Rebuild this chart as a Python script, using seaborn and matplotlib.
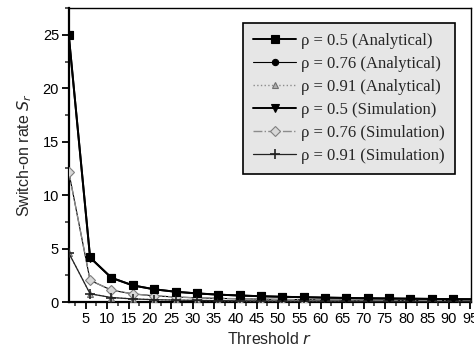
import matplotlib
matplotlib.use("Agg")
import matplotlib.pyplot as plt
import seaborn as sns
import pandas as pd
from matplotlib.ticker import MultipleLocator

sns.set_theme(style="ticks")
plt.rcParams['font.family'] = ['Liberation Sans', 'DejaVu Sans']

r = [1, 6, 11, 16, 21, 26, 31, 36, 41, 46, 51, 56, 61, 66, 71, 76, 81, 86, 91, 96]
s_05_ana = [25.0, 4.17, 2.27, 1.56, 1.19, 0.96, 0.81, 0.69, 0.61, 0.54, 0.49, 0.45, 0.41, 0.38, 0.35, 0.33, 0.31, 0.29, 0.27, 0.26]
s_076_ana = [12.2, 2.03, 1.11, 0.76, 0.58, 0.47, 0.39, 0.34, 0.30, 0.27, 0.24, 0.22, 0.20, 0.18, 0.17, 0.16, 0.15, 0.14, 0.13, 0.13]
s_091_ana = [4.6, 0.77, 0.42, 0.29, 0.22, 0.18, 0.15, 0.13, 0.11, 0.10, 0.09, 0.08, 0.08, 0.07, 0.06, 0.06, 0.06, 0.05, 0.05, 0.05]
s_05_sim = [25.0, 4.15, 2.26, 1.55, 1.19, 0.96, 0.80, 0.69, 0.61, 0.54, 0.49, 0.45, 0.41, 0.38, 0.35, 0.33, 0.31, 0.29, 0.27, 0.26]
s_076_sim = [12.2, 2.03, 1.11, 0.76, 0.58, 0.47, 0.39, 0.34, 0.30, 0.27, 0.24, 0.22, 0.20, 0.18, 0.17, 0.16, 0.15, 0.14, 0.13, 0.13]
s_091_sim = [4.6, 0.77, 0.42, 0.29, 0.22, 0.18, 0.15, 0.13, 0.11, 0.10, 0.09, 0.08, 0.08, 0.07, 0.06, 0.06, 0.06, 0.05, 0.05, 0.05]

labels = [
    "ρ = 0.5 (Analytical)",
    "ρ = 0.76 (Analytical)",
    "ρ = 0.91 (Analytical)",
    "ρ = 0.5 (Simulation)",
    "ρ = 0.76 (Simulation)",
    "ρ = 0.91 (Simulation)",
]
series = [s_05_ana, s_076_ana, s_091_ana, s_05_sim, s_076_sim, s_091_sim]

styles = [
    dict(color="black", ls="-", lw=1.4, marker="s", ms=5.5, mfc="black", mec="black", zorder=4),
    dict(color="black", ls="-", lw=0.8, marker="o", ms=4.5, mfc="black", mec="black", zorder=2),
    dict(color="#8c8c8c", ls=":", lw=1.0, marker="^", ms=4.5, mfc="#b0b0b0", mec="#707070", zorder=3),
    dict(color="black", ls="-", lw=1.4, marker="v", ms=5.5, mfc="black", mec="black", zorder=5),
    dict(color="#8c8c8c", ls="-.", lw=1.0, marker="D", ms=5, mfc="#d8d8d8", mec="#808080", zorder=3),
    dict(color="#222222", ls="-", lw=0.9, marker="+", ms=6.5, mfc="black", mec="#222222", mew=1.2, zorder=4),
]

fig = plt.figure(figsize=(4.74, 3.52), dpi=100)
ax = fig.add_axes([0.145, 0.142, 0.849, 0.835])

for lab, ys, st in zip(labels, series, styles):
    df = pd.DataFrame({"r": r, "S": ys})
    sns.lineplot(data=df, x="r", y="S", ax=ax, label=lab,
                 color=st["color"], linestyle=st["ls"], linewidth=st["lw"],
                 marker=st["marker"], markersize=st["ms"],
                 markerfacecolor=st["mfc"], markeredgecolor=st["mec"],
                 markeredgewidth=st.get("mew", 0.8), zorder=st["zorder"])

ax.set_xlim(1, 95.2)
ax.set_ylim(0, 27.5)
ax.xaxis.set_major_locator(MultipleLocator(5))
ax.xaxis.set_minor_locator(MultipleLocator(2.5))
ax.yaxis.set_major_locator(MultipleLocator(5))
ax.yaxis.set_minor_locator(MultipleLocator(2.5))
ax.set_xticks([5, 10, 15, 20, 25, 30, 35, 40, 45, 50, 55, 60, 65, 70, 75, 80, 85, 90, 95])
ax.set_xticklabels(["5", "10", "15", "20", "25", "30", "35", "40", "45", "50",
                    "55", "60", "65", "70", "75", "80", "85", "90", "95"])
ax.tick_params(axis="both", which="major", direction="out", length=5, width=1.3,
               labelsize=10.5, pad=2, colors="black")
ax.tick_params(axis="both", which="minor", direction="out", length=3, width=1.1)
ax.tick_params(top=False, right=False)

for side in ["top", "right", "left", "bottom"]:
    ax.spines[side].set_visible(True)
    ax.spines[side].set_color("black")
ax.spines["left"].set_linewidth(1.6)
ax.spines["bottom"].set_linewidth(1.6)
ax.spines["top"].set_linewidth(1.0)
ax.spines["right"].set_linewidth(1.0)

ax.set_xlabel("Threshold $r$", fontsize=11.5, labelpad=4)
ax.set_ylabel("Switch-on rate $S_r$", fontsize=11.5, labelpad=6)

leg = ax.legend(loc="upper left", bbox_to_anchor=(0.433, 0.95), frameon=True,
                fancybox=False, prop={"family": "Liberation Serif", "size": 12},
                handlelength=2.6, handletextpad=0.3, labelspacing=0.42,
                borderpad=0.6, borderaxespad=0)
frame = leg.get_frame()
frame.set_facecolor("#e6e6e6")
frame.set_edgecolor("black")
frame.set_linewidth(1.2)
frame.set_alpha(1)

fig.savefig("out.png", dpi=100)
